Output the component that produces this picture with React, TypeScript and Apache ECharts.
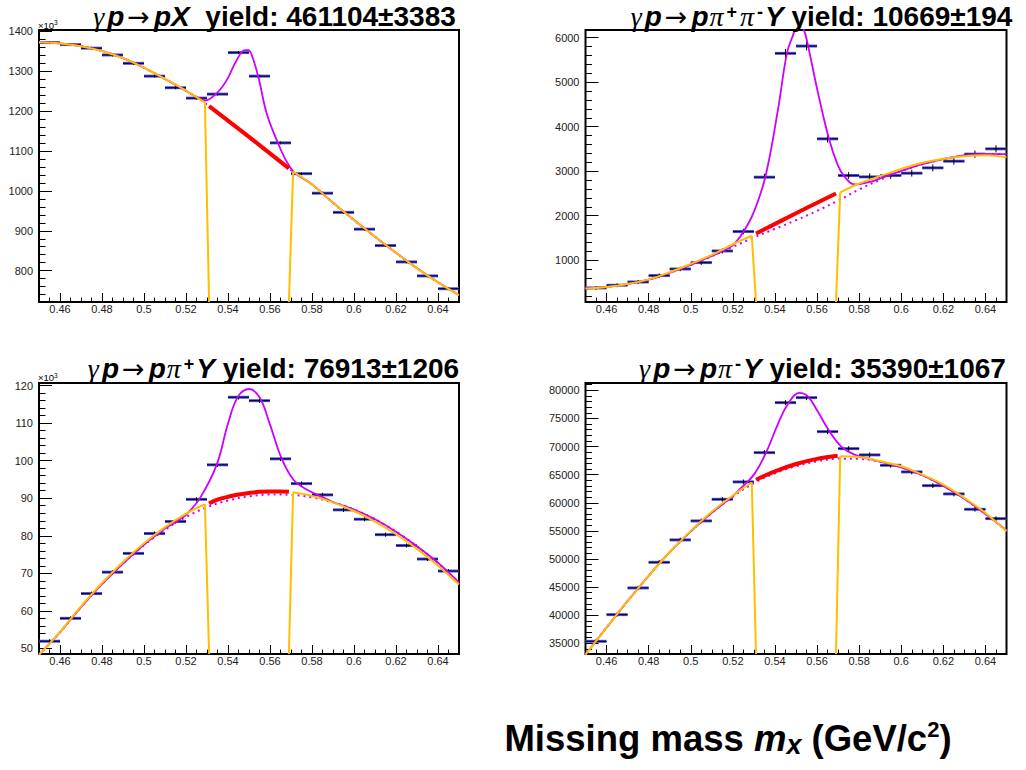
import React, { useEffect, useRef } from 'react';
import * as echarts from 'echarts';

// ---------------- shared x values ----------------
const BIN_CENTERS = [0.455, 0.465, 0.475, 0.485, 0.495, 0.505, 0.515, 0.525, 0.535, 0.545, 0.555, 0.565, 0.575, 0.585, 0.595, 0.605, 0.615, 0.625, 0.635, 0.645];
const BIN_HALF_WIDTH = 0.005;
const BG_LEFT_X = [0.45, 0.46, 0.47, 0.48, 0.49, 0.5, 0.51, 0.52, 0.529];
const BG_RIGHT_X = [0.571, 0.58, 0.59, 0.6, 0.61, 0.62, 0.63, 0.64, 0.65];
const BG_FULL_X = [0.45, 0.46, 0.47, 0.48, 0.49, 0.5, 0.51, 0.52, 0.53, 0.54, 0.55, 0.56, 0.57, 0.58, 0.59, 0.6, 0.61, 0.62, 0.63, 0.64, 0.65];
const GAP_LOW = 0.531;
const GAP_HIGH = 0.569;
const X_RANGE = [0.45, 0.65];

// ---------------- panel 1: gamma p -> p X (x10^3) ----------------
const COUNTS_1 = [1371, 1366, 1357, 1340, 1319, 1287, 1258, 1232, 1242, 1346, 1287, 1120, 1043, 994, 946, 904, 863, 822, 787, 755];
const ERRORS_1 = [1.2, 1.2, 1.2, 1.2, 1.1, 1.1, 1.1, 1.1, 1.1, 1.2, 1.1, 1.1, 1.0, 1.0, 1.0, 1.0, 0.9, 0.9, 0.9, 0.9];
const BG_LEFT_1 = [1372, 1369, 1362, 1350, 1332, 1308, 1280, 1251, 1221];
const BG_RIGHT_1 = [1048, 1016, 970, 927, 885, 845, 806, 771, 739];
const RED_X_1 = [0.531, 0.55, 0.569];
const RED_1 = [1212, 1135, 1056];
const DOTTED_1 = [1372, 1369, 1362, 1350, 1332, 1308, 1280, 1251, 1216, 1175, 1134, 1093, 1052, 1016, 970, 927, 885, 845, 806, 771, 739];
const TOTAL_X_1 = [0.45, 0.46, 0.47, 0.48, 0.49, 0.5, 0.51, 0.52, 0.525, 0.529, 0.5346, 0.5394, 0.5441, 0.5481, 0.5497, 0.5513, 0.5544, 0.5584, 0.5632, 0.5671, 0.5711, 0.575, 0.58, 0.59, 0.6, 0.61, 0.62, 0.63, 0.64, 0.65];
const TOTAL_1 = [1372, 1369, 1362, 1350, 1332, 1308, 1280, 1250, 1235, 1226, 1244, 1277, 1327, 1352, 1352, 1340, 1286, 1194, 1127, 1081, 1048, 1033, 1016, 970, 927, 885, 845, 806, 771, 739];
const Y_RANGE_1 = [721.7, 1402.5];
const TITLE_1 = '{g|γ}{b|p}{a|→}{b|pX}{n|  yield: 461104±3383}';

// ---------------- panel 2: gamma p -> p pi+ pi- Y ----------------
const COUNTS_2 = [378, 438, 512, 656, 804, 948, 1209, 1645, 2866, 5648, 5812, 3728, 2904, 2873, 2904, 2956, 3076, 3226, 3384, 3503];
const ERRORS_2 = [20, 21, 23, 26, 28, 31, 35, 41, 54, 75, 76, 61, 54, 54, 54, 54, 55, 57, 58, 59];
const BG_LEFT_2 = [363, 400, 468, 570, 730, 920, 1120, 1360, 1550];
const BG_RIGHT_2 = [2525, 2724, 2889, 3050, 3190, 3278, 3339, 3361, 3316];
const RED_X_2 = [0.531, 0.55, 0.569];
const RED_2 = [1600, 2055, 2500];
const DOTTED_2 = [363, 400, 466, 565, 715, 895, 1090, 1300, 1510, 1705, 1900, 2110, 2340, 2590, 2810, 3000, 3155, 3268, 3350, 3388, 3384];
const TOTAL_X_2 = [0.45, 0.46, 0.47, 0.48, 0.49, 0.5, 0.51, 0.515, 0.52, 0.525, 0.53, 0.5354, 0.5413, 0.5457, 0.5484, 0.551, 0.5535, 0.5556, 0.5603, 0.5656, 0.5698, 0.573, 0.578, 0.585, 0.59, 0.6, 0.61, 0.62, 0.63, 0.64, 0.65];
const TOTAL_2 = [363, 400, 466, 565, 715, 895, 1095, 1210, 1337, 1637, 2087, 2866, 4344, 5655, 6030, 6300, 6200, 5843, 4793, 3743, 3143, 2882, 2702, 2760, 2837, 3008, 3159, 3271, 3354, 3391, 3384];
const Y_RANGE_2 = [62, 6173];
const TITLE_2 = '{g|γ}{b|p}{a|→}{b|p}{g|π}{s|+}{g|π}{s|-}{b|Y}{n| yield: 10669±194}';

// ---------------- panel 3: gamma p -> p pi+ Y (x10^3) ----------------
const COUNTS_3 = [51.9, 58.0, 64.6, 70.3, 75.3, 80.6, 83.8, 89.7, 98.9, 116.9, 116.0, 100.5, 93.9, 90.9, 86.9, 84.4, 80.3, 77.4, 73.8, 70.6];
const ERRORS_3 = [0.23, 0.24, 0.25, 0.27, 0.27, 0.28, 0.29, 0.3, 0.31, 0.34, 0.34, 0.32, 0.31, 0.3, 0.29, 0.29, 0.28, 0.28, 0.27, 0.27];
const BG_LEFT_3 = [48.3, 54.4, 61.2, 67.4, 73.0, 78.0, 82.3, 85.9, 88.4];
const BG_RIGHT_3 = [91.6, 90.6, 88.9, 86.6, 83.8, 80.4, 76.5, 72.0, 67.0];
const RED_X_3 = [0.531, 0.535, 0.54, 0.545, 0.55, 0.555, 0.56, 0.565, 0.569];
const RED_3 = [88.6, 89.6, 90.4, 91.0, 91.4, 91.7, 91.8, 91.8, 91.7];
const DOTTED_3 = [48.3, 54.3, 61.0, 67.1, 72.6, 77.5, 81.6, 85.0, 87.6, 89.4, 90.5, 91.0, 90.9, 90.2, 88.9, 87.0, 84.4, 81.1, 77.2, 72.7, 67.5];
const TOTAL_X_3 = [0.45, 0.46, 0.47, 0.48, 0.49, 0.5, 0.51, 0.515, 0.52, 0.5267, 0.5346, 0.5401, 0.5449, 0.5501, 0.5552, 0.56, 0.5656, 0.5711, 0.5775, 0.585, 0.59, 0.6, 0.61, 0.62, 0.63, 0.64, 0.65];
const TOTAL_3 = [48.3, 54.3, 61.0, 67.1, 72.6, 77.6, 81.9, 83.7, 85.6, 90.1, 98.9, 110.1, 117.2, 119.1, 116.7, 109.6, 100.5, 95.0, 92.3, 90.3, 89.0, 87.0, 84.4, 81.1, 77.2, 72.8, 67.5];
const Y_RANGE_3 = [48.5, 120.7];
const TITLE_3 = '{g|γ}{b|p}{a|→}{b|p}{g|π}{s|+}{b|Y}{n| yield: 76913±1206}';

// ---------------- panel 4: gamma p -> p pi- Y ----------------
const COUNTS_4 = [35354, 40104, 44853, 49406, 53390, 56770, 60612, 63707, 68919, 77812, 78701, 72654, 69630, 68510, 66660, 65486, 63049, 61572, 58834, 57180];
const ERRORS_4 = [190, 200, 212, 222, 231, 238, 246, 252, 262, 279, 280, 270, 264, 262, 258, 256, 251, 248, 243, 239];
const BG_LEFT_4 = [33000, 37800, 42500, 47000, 51200, 55000, 58400, 61300, 63600];
const BG_RIGHT_4 = [68260, 68150, 67370, 66480, 65010, 63230, 60860, 58190, 54920];
const RED_X_4 = [0.531, 0.54, 0.55, 0.56, 0.5698];
const RED_4 = [64100, 65600, 66900, 67800, 68350];
const DOTTED_4 = [33000, 37800, 42500, 47000, 51200, 54900, 58200, 61100, 63500, 65250, 66500, 67350, 67850, 67800, 67300, 66300, 64900, 63000, 60700, 58000, 55000];
const TOTAL_X_4 = [0.45, 0.46, 0.47, 0.48, 0.49, 0.5, 0.51, 0.52, 0.5238, 0.53, 0.5357, 0.5413, 0.546, 0.5516, 0.5556, 0.5603, 0.5659, 0.5714, 0.5778, 0.5873, 0.6, 0.61, 0.62, 0.63, 0.64, 0.65];
const TOTAL_4 = [33000, 37800, 42500, 47000, 51200, 54900, 58200, 61200, 62600, 65000, 68860, 73900, 77460, 79540, 78930, 76260, 72700, 70040, 68560, 67600, 66300, 64900, 63000, 60700, 58000, 55100];
const Y_RANGE_4 = [33100, 81300];
const TITLE_4 = '{g|γ}{b|p}{a|→}{b|p}{g|π}{s|-}{b|Y}{n| yield: 35390±1067}';

const X_AXIS_TITLE = '{n|Missing mass }{i|m}{sub|x}{n| (GeV/c}{sup|2}{n|)}';

// ---------------- layout & style ----------------
const GRIDS = [
  { left: 39, top: 30, width: 420, height: 272 },
  { left: 585.5, top: 30, width: 421, height: 272 },
  { left: 39, top: 383, width: 420, height: 271 },
  { left: 585.5, top: 383, width: 421, height: 271 },
];
const Y_SPLITS = [[7, 34], [6, 30], [7, 36], [10, 48]];
const TITLE_POS = [[274, 16], [821, 16], [273, 368], [822, 368]];
const EXP_POS = [[38, 25], null, [38, 377.5], null];

const MAGENTA = '#cc00ff';
const ORANGE = '#ffbe00';
const RED = '#ff0000';
const FONT = 'Liberation Sans, Arial, sans-serif';

const PANELS = [
  { counts: COUNTS_1, errors: ERRORS_1, bgLeft: BG_LEFT_1, bgRight: BG_RIGHT_1, redX: RED_X_1, red: RED_1, dotted: DOTTED_1, totalX: TOTAL_X_1, total: TOTAL_1, yRange: Y_RANGE_1, title: TITLE_1 },
  { counts: COUNTS_2, errors: ERRORS_2, bgLeft: BG_LEFT_2, bgRight: BG_RIGHT_2, redX: RED_X_2, red: RED_2, dotted: DOTTED_2, totalX: TOTAL_X_2, total: TOTAL_2, yRange: Y_RANGE_2, title: TITLE_2 },
  { counts: COUNTS_3, errors: ERRORS_3, bgLeft: BG_LEFT_3, bgRight: BG_RIGHT_3, redX: RED_X_3, red: RED_3, dotted: DOTTED_3, totalX: TOTAL_X_3, total: TOTAL_3, yRange: Y_RANGE_3, title: TITLE_3 },
  { counts: COUNTS_4, errors: ERRORS_4, bgLeft: BG_LEFT_4, bgRight: BG_RIGHT_4, redX: RED_X_4, red: RED_4, dotted: DOTTED_4, totalX: TOTAL_X_4, total: TOTAL_4, yRange: Y_RANGE_4, title: TITLE_4 },
];

const titleRich = {
  g: { fontFamily: 'Liberation Serif, serif', fontStyle: 'italic', fontSize: 28, color: '#000', lineHeight: 27, padding: [0, 3, 0, 1] },
  b: { fontFamily: FONT, fontStyle: 'italic', fontWeight: 'bold', fontSize: 28, color: '#000', lineHeight: 27 },
  a: { fontFamily: 'DejaVu Sans, sans-serif', fontSize: 27, color: '#000', lineHeight: 27, padding: [0, 4, 0, 3] },
  n: { fontFamily: FONT, fontWeight: 'bold', fontSize: 28, color: '#000', lineHeight: 27 },
  s: { fontFamily: FONT, fontWeight: 'bold', fontSize: 18, color: '#000', lineHeight: 16, verticalAlign: 'top', padding: [0, 2, 0, 0] },
};

function buildOption() {
  const xAxis: any[] = [];
  const yAxis: any[] = [];
  const series: any[] = [];
  const graphic: any[] = [];

  PANELS.forEach((p, i) => {
    const [yMin, yMax] = p.yRange;
    const common = { type: 'value', gridIndex: i, splitLine: { show: false }, axisLine: { show: false } };
    xAxis.push({
      ...common, position: 'bottom', min: X_RANGE[0], max: X_RANGE[1], splitNumber: 10,
      axisTick: { show: true, inside: true, length: 9, lineStyle: { color: '#000', width: 1 } },
      axisLabel: {
        show: true, showMinLabel: false, showMaxLabel: false, margin: 1.5, fontSize: 11, color: '#222', fontFamily: FONT,
        formatter: (v: number) => String(Number(v.toFixed(3))),
      },
    });
    xAxis.push({
      ...common, position: 'bottom', min: X_RANGE[0], max: X_RANGE[1], splitNumber: 40,
      axisTick: { show: true, inside: true, length: 4.5, lineStyle: { color: '#000', width: 1 } },
      axisLabel: { show: false },
    });
    yAxis.push({
      ...common, position: 'left', min: yMin, max: yMax, splitNumber: Y_SPLITS[i][0],
      axisTick: { show: true, inside: true, length: 13, lineStyle: { color: '#000', width: 1 } },
      axisLabel: {
        show: true, showMinLabel: false, showMaxLabel: false, margin: 6, fontSize: 11, color: '#222', fontFamily: FONT,
        formatter: (v: number) => String(Number(v.toFixed(3))),
      },
    });
    yAxis.push({
      ...common, position: 'left', min: yMin, max: yMax, splitNumber: Y_SPLITS[i][1],
      axisTick: { show: true, inside: true, length: 6.5, lineStyle: { color: '#000', width: 1 } },
      axisLabel: { show: false },
    });

    const xi = 2 * i;
    const line = (xs: number[], ys: number[], color: string, width: number, z: number, type: any = 'solid', smooth: any = 0.4) => ({
      type: 'line', xAxisIndex: xi, yAxisIndex: xi,
      data: xs.map((x, k) => [x, ys[k]]),
      showSymbol: false, symbol: 'none', smooth, clip: true, silent: true, z,
      lineStyle: { color, width, type },
    });

    // histogram bins with error bars
    series.push({
      type: 'custom', xAxisIndex: xi, yAxisIndex: xi, clip: true, silent: true, z: 2,
      data: BIN_CENTERS.map((x, k) => [x, p.counts[k], p.errors[k]]),
      renderItem: (_params: any, api: any) => {
        const x = api.value(0), y = api.value(1), e = api.value(2);
        const a = api.coord([x - BIN_HALF_WIDTH, y]);
        const b = api.coord([x + BIN_HALF_WIDTH, y]);
        const t = api.coord([x, y + e]);
        const d = api.coord([x, y - e]);
        return {
          type: 'group',
          children: [
            { type: 'line', shape: { x1: a[0], y1: a[1], x2: b[0], y2: b[1] }, style: { stroke: '#5a5ab8', lineWidth: 3 } },
            { type: 'line', shape: { x1: a[0], y1: a[1], x2: b[0], y2: b[1] }, style: { stroke: '#00007a', lineWidth: 1.3 } },
            { type: 'line', shape: { x1: t[0], y1: t[1] - 1, x2: d[0], y2: d[1] + 1 }, style: { stroke: '#000', lineWidth: 1 } },
          ],
        };
      },
    });

    series.push(line(BG_FULL_X, p.dotted, MAGENTA, 2, 3, [2, 4]));
    series.push(line(p.totalX, p.total, MAGENTA, 1.8, 4));
    series.push(line(BG_LEFT_X, p.bgLeft, ORANGE, 2, 5));
    series.push(line(BG_RIGHT_X, p.bgRight, ORANGE, 2, 5));
    const lastL = BG_LEFT_X.length - 1;
    series.push(line([BG_LEFT_X[lastL], GAP_LOW], [p.bgLeft[lastL], yMin], ORANGE, 2, 5, 'solid', false));
    series.push(line([GAP_HIGH, BG_RIGHT_X[0]], [yMin, p.bgRight[0]], ORANGE, 2, 5, 'solid', false));
    series.push(line(p.redX, p.red, RED, 4, 6));

    graphic.push({
      type: 'text', x: TITLE_POS[i][0], y: TITLE_POS[i][1], z: 10,
      style: { text: p.title, rich: titleRich, align: 'center', verticalAlign: 'middle' },
    });
    const ep = EXP_POS[i];
    if (ep) {
      graphic.push({
        type: 'text', x: ep[0], y: ep[1], z: 10,
        style: {
          text: '{a|×10}{s|3}', align: 'left', verticalAlign: 'middle',
          rich: {
            a: { fontFamily: FONT, fontSize: 9.5, color: '#333', lineHeight: 12 },
            s: { fontFamily: FONT, fontSize: 6.5, color: '#333', lineHeight: 8, verticalAlign: 'top' },
          },
        },
      });
    }
  });

  graphic.push({
    type: 'text', x: 728, y: 738, z: 10,
    style: {
      text: X_AXIS_TITLE, align: 'center', verticalAlign: 'middle',
      rich: {
        n: { fontFamily: FONT, fontWeight: 'bold', fontSize: 36.5, color: '#000', lineHeight: 40 },
        i: { fontFamily: FONT, fontWeight: 'bold', fontStyle: 'italic', fontSize: 36.5, color: '#000', lineHeight: 40 },
        sub: { fontFamily: FONT, fontWeight: 'bold', fontStyle: 'italic', fontSize: 27, color: '#000', lineHeight: 20, verticalAlign: 'bottom' },
        sup: { fontFamily: FONT, fontWeight: 'bold', fontSize: 22, color: '#000', lineHeight: 30, verticalAlign: 'top' },
      },
    },
  });

  return {
    animation: false,
    backgroundColor: '#ffffff',
    grid: GRIDS.map((g) => ({ ...g, show: true, borderColor: '#000', borderWidth: 2, backgroundColor: 'transparent' })),
    xAxis, yAxis, series, graphic,
  };
}

export default function App() {
  const ref = useRef<HTMLDivElement>(null);
  useEffect(() => {
    if (!ref.current) return;
    const chart = echarts.init(ref.current, undefined, { renderer: 'svg' });
    chart.setOption(buildOption() as any);
    return () => chart.dispose();
  }, []);
  return <div ref={ref} style={{ position: 'absolute', left: 0, top: 0, width: 1026, height: 770 }} />;
}
